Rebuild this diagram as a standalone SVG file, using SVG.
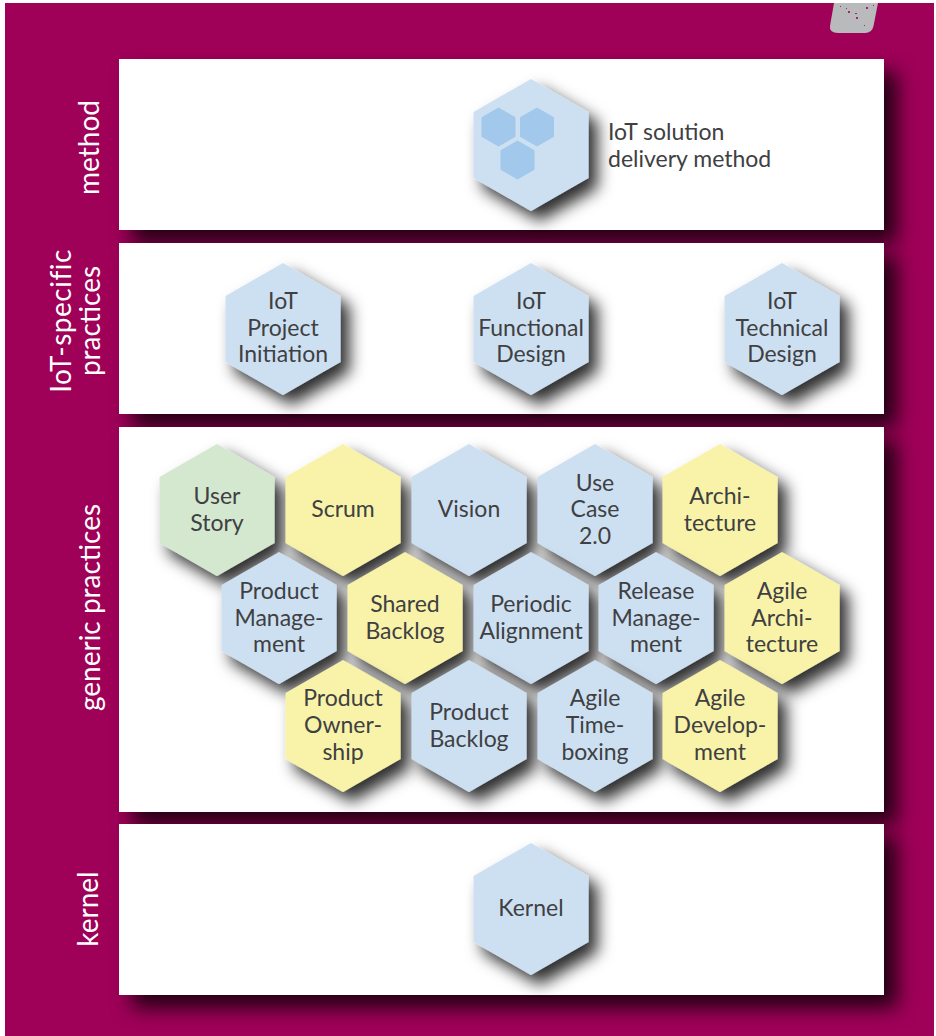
<svg xmlns="http://www.w3.org/2000/svg" width="936" height="1036" viewBox="0 0 936 1036">
<style>
text{font-family:"Lato","Open Sans","Liberation Sans",sans-serif;font-size:23px;fill:#404042;text-anchor:middle}
.side{fill:#fff;font-size:28px}
.left{text-anchor:start}
.panel{fill:#fff;filter:url(#ps)}
.hx{filter:url(#hs)}
.b{fill:#cde0f2}.y{fill:#f8f3a8}.g{fill:#d4e7cf}
.inner{fill:#a2c8eb}
</style>
<defs>
<filter id="ps" x="-10%" y="-25%" width="125%" height="160%"><feDropShadow dx="13" dy="13" stdDeviation="10" flood-color="#000" flood-opacity=".78"/></filter>
<filter id="hs" x="-40%" y="-40%" width="190%" height="190%"><feDropShadow dx="9" dy="10" stdDeviation="8" flood-color="#000" flood-opacity=".82"/></filter>
<polygon id="h" points="0,-66 57.5,-33 57.5,33 0,66 -57.5,33 -57.5,-33"/>
<polygon id="s" points="0,-19.5 17,-9.75 17,9.75 0,19.5 -17,9.75 -17,-9.75"/>
</defs>
<rect id="background" x="5" y="3" width="929" height="1033" fill="#9f0058"/>
<g id="tab">
<path d="M834 3H878L873.500 26Q872 33 865 33H838Q829 33 830 26Z" fill="#b9babc"/>
<g fill="#9f0058" opacity=".8"><rect x="848" y="11" width="2" height="2"/><rect x="856" y="17" width="2" height="2"/><rect x="866" y="7" width="2" height="2"/><rect x="840" y="6" width="1" height="1"/><rect x="855" y="13" width="2" height="1"/><rect x="864" y="25" width="1" height="1"/><rect x="873" y="5" width="1" height="1"/><rect x="846" y="8" width="1" height="1"/></g>
</g>
<g id="panels">
<rect id="panel-method" class="panel" x="119" y="59" width="765" height="171"/>
<rect id="panel-iot" class="panel" x="119" y="243" width="765" height="171"/>
<rect id="panel-generic" class="panel" x="119" y="427" width="765" height="385"/>
<rect id="panel-kernel" class="panel" x="119" y="824" width="765" height="171"/>
</g>
<g id="labels">
<text class="side" transform="translate(99 147.500) rotate(-90)">method</text>
<text class="side" letter-spacing=".5" transform="translate(71 321) rotate(-90)">IoT-specific</text>
<text class="side" transform="translate(100 321) rotate(-90)">practices</text>
<text class="side" transform="translate(100 607.500) rotate(-90)">generic practices</text>
<text class="side" transform="translate(98 909) rotate(-90)">kernel</text>
</g>
<g id="connectors"/>
<g id="n-method"><use href="#h" class="hx b" x="531" y="145"/><use href="#s" class="inner" x="498.500" y="127"/><use href="#s" class="inner" x="537" y="127"/><use href="#s" class="inner" x="517.500" y="160"/>
<text class="left" x="608" y="140">IoT solution</text><text class="left" x="608" y="167">delivery method</text></g>
<g id="n-iot1"><use href="#h" class="hx b" x="283" y="329"/><text x="283" y="309">IoT</text><text x="283" y="336">Project</text><text x="283" y="362">Initiation</text></g>
<g id="n-iot2"><use href="#h" class="hx b" x="531" y="329"/><text x="531" y="309">IoT</text><text x="531" y="336">Functional</text><text x="531" y="362">Design</text></g>
<g id="n-iot3"><use href="#h" class="hx b" x="782" y="329"/><text x="782" y="309">IoT</text><text x="782" y="336">Technical</text><text x="782" y="362">Design</text></g>
<g id="n-userstory"><use href="#h" class="hx g" x="217" y="510"/><text x="217" y="504">User</text><text x="217" y="531">Story</text></g>
<g id="n-scrum"><use href="#h" class="hx y" x="343" y="510"/><text x="343" y="517">Scrum</text></g>
<g id="n-vision"><use href="#h" class="hx b" x="469" y="510"/><text x="469" y="517">Vision</text></g>
<g id="n-usecase"><use href="#h" class="hx b" x="595" y="510"/><text x="595" y="491">Use</text><text x="595" y="517">Case</text><text x="595" y="544">2.0</text></g>
<g id="n-architecture"><use href="#h" class="hx y" x="720" y="510"/><text x="720" y="504">Archi-</text><text x="720" y="531">tecture</text></g>
<g id="n-prodmgmt"><use href="#h" class="hx b" x="279" y="618"/><text x="279" y="599">Product</text><text x="279" y="626">Manage-</text><text x="279" y="652">ment</text></g>
<g id="n-shared"><use href="#h" class="hx y" x="405" y="618"/><text x="405" y="612">Shared</text><text x="405" y="639">Backlog</text></g>
<g id="n-periodic"><use href="#h" class="hx b" x="531" y="618"/><text x="531" y="612">Periodic</text><text x="531" y="639">Alignment</text></g>
<g id="n-release"><use href="#h" class="hx b" x="656" y="618"/><text x="656" y="599">Release</text><text x="656" y="626">Manage-</text><text x="656" y="652">ment</text></g>
<g id="n-agilearch"><use href="#h" class="hx y" x="782" y="618"/><text x="782" y="599">Agile</text><text x="782" y="626">Archi-</text><text x="782" y="652">tecture</text></g>
<g id="n-ownership"><use href="#h" class="hx y" x="343" y="726"/><text x="343" y="706">Product</text><text x="343" y="733">Owner-</text><text x="343" y="760">ship</text></g>
<g id="n-backlog"><use href="#h" class="hx b" x="469" y="726"/><text x="469" y="720">Product</text><text x="469" y="747">Backlog</text></g>
<g id="n-timebox"><use href="#h" class="hx b" x="595" y="726"/><text x="595" y="706">Agile</text><text x="595" y="733">Time-</text><text x="595" y="760">boxing</text></g>
<g id="n-agiledev"><use href="#h" class="hx y" x="720" y="726"/><text x="720" y="706">Agile</text><text x="720" y="733">Develop-</text><text x="720" y="760">ment</text></g>
<g id="n-kernel"><use href="#h" class="hx b" x="531" y="909"/><text x="531" y="916">Kernel</text></g>
</svg>
